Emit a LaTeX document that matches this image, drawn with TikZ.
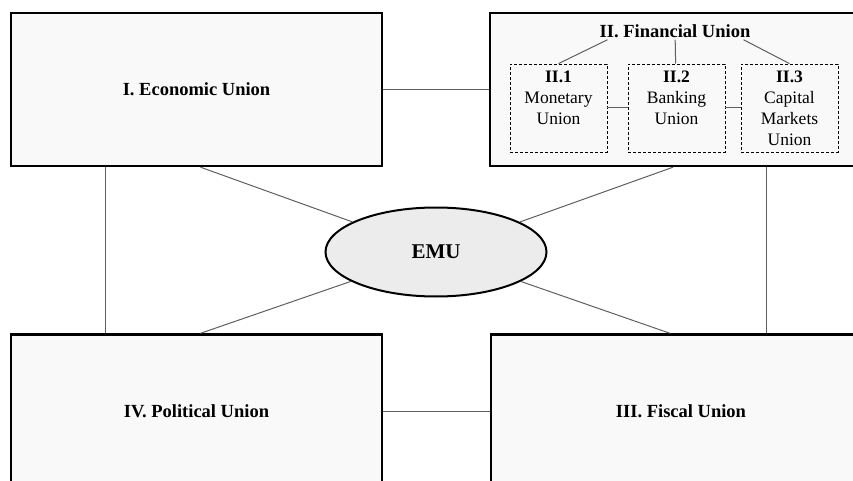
\documentclass[tikz,border=0pt]{standalone}
\usepackage{fontspec}
\setmainfont{Liberation Serif}
\usetikzlibrary{shapes.geometric}
\definecolor{boxgray}{RGB}{249,249,249}
\definecolor{emugray}{RGB}{236,236,236}
\definecolor{linkgray}{RGB}{95,95,95}

\begin{document}
\begin{tikzpicture}[x=1pt,y=-1pt,
    unionbox/.style={draw,line width=2.4pt,fill=boxgray,minimum width=371pt,minimum height=153pt,inner sep=0pt,
      font=\fontsize{18.5}{21}\selectfont\bfseries},
    subbox/.style={draw,dash pattern=on 3pt off 2pt,line width=0.8pt,minimum width=97pt,minimum height=88pt,
      inner sep=0pt,align=center,font=\fontsize{17.5}{21}\selectfont},
    link/.style={draw=linkgray,line width=1pt}]
                      \useasboundingbox (0,0) rectangle (853,481);
                      % the four unions
                      \node[unionbox](econ)at(196.5,89.5){I. Economic Union};
                      \node[unionbox,minimum width=380pt](fin)at(680,89.5){};
                      \node[unionbox](pol)at(196.5,411){IV. Political Union};
                      \node[unionbox,minimum width=380pt](fisc)at(681,411){III. Fiscal Union};
                      % financial union and its parts
                      \node[font=\fontsize{18.5}{21}\selectfont\bfseries,inner sep=2pt](fintitle)at(675,31){II. Financial Union};
                      \node[subbox](mon)at(558.5,108){\textbf{II.1}\\Monetary\\Union\\~};
                      \node[subbox](bank)at(676.5,108){\textbf{II.2}\\Banking\\Union\\~};
                      \node[subbox](cap)at(789.5,108){\textbf{II.3}\\Capital\\Markets\\Union};
                      \draw[link] ([xshift=10pt]fintitle.south west) -- (mon.north);
                      \draw[link] (fintitle) -- (bank);
                      \draw[link] ([xshift=-9pt]fintitle.south east) -- (cap.north);
                      \draw[link] (mon) -- (bank);
                      \draw[link] (bank) -- (cap);
                      % EMU in the middle
                      \node[ellipse,draw,line width=2pt,fill=emugray,minimum width=221pt,minimum height=89pt,
                        font=\fontsize{21}{24}\selectfont\bfseries](emu)at(436,252){EMU};
                      \coordinate (lv) at (105,0);
                      \coordinate (rv) at (766,0);
                      \draw[link] (econ) -- (fin);
                      \draw[link] (pol) -- (fisc);
                      \draw[link] (econ.south -| lv) -- (pol.north -| lv);
                      \draw[link] (fin.south -| rv) -- (fisc.north -| rv);
                      \draw[link] ([xshift=4pt]econ.south) -- (emu);
                      \draw[link] ([xshift=4pt]pol.north) -- (emu);
                      \draw[link] ([xshift=-7pt]fin.south) -- (emu);
                      \draw[link] ([xshift=-11pt]fisc.north) -- (emu);
                  \end{tikzpicture}
\end{document}
